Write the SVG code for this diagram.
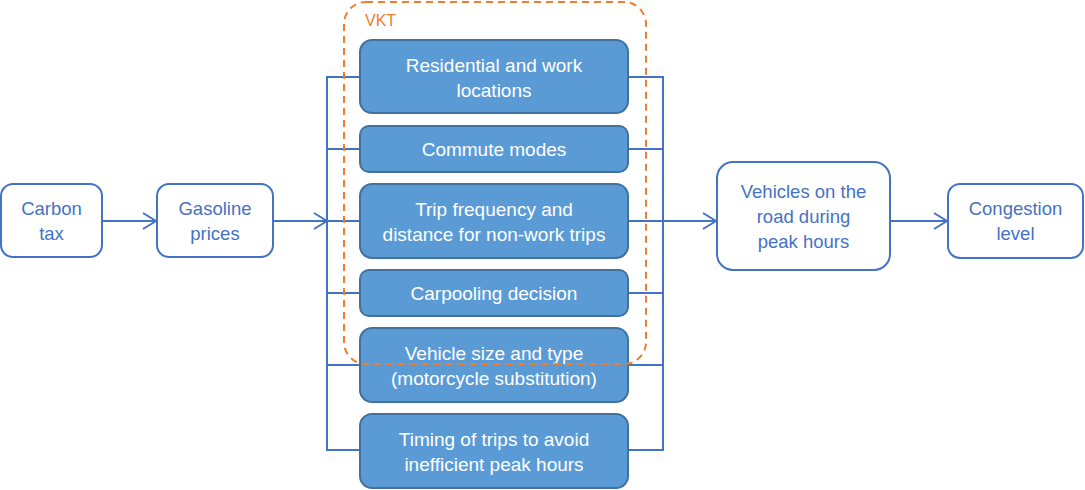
<svg xmlns="http://www.w3.org/2000/svg" width="1085" height="490" viewBox="0 0 1085 490">
<defs>
<marker id="arr" markerWidth="16" markerHeight="18" refX="14" refY="9" orient="auto" markerUnits="userSpaceOnUse">
<path d="M1,1 L14,9 L1,17" fill="none" stroke="#4472C4" stroke-width="2"/>
</marker>
<style>
.wb{fill:#fff;stroke:#4472C4;stroke-width:2}
.bb{fill:#5B9BD5;stroke:#41719C;stroke-width:2}
.wt{font-family:"Liberation Sans",Arial,sans-serif;font-size:18.5px;fill:#4472C4;text-anchor:middle}
.bt{font-family:"Liberation Sans",Arial,sans-serif;font-size:19px;fill:#fff;text-anchor:middle}
.cn{fill:none;stroke:#4472C4;stroke-width:2}
</style>
</defs>
<g id="connectors">
<path class="cn" d="M102,221 H156" marker-end="url(#arr)"/>
<path class="cn" d="M273,221 H327" marker-end="url(#arr)"/>
<path class="cn" d="M360,77 H327 V450 H360 M327,149 H360 M327,221 H360 M327,293 H360 M327,365 H360"/>
<path class="cn" d="M628,77 H663 V450 H628 M628,149 H663 M628,221 H663 M628,293 H663 M628,365 H663"/>
<path class="cn" d="M663,221 H716" marker-end="url(#arr)"/>
<path class="cn" d="M890,221 H947" marker-end="url(#arr)"/>
</g>
<g id="carbon-tax">
<rect class="wb" x="1" y="184" width="101" height="73" rx="12"/>
<text class="wt" x="51.5" y="215">Carbon</text>
<text class="wt" x="51.5" y="240">tax</text>
</g>
<g id="gasoline-prices">
<rect class="wb" x="157" y="184" width="116" height="73" rx="12"/>
<text class="wt" x="215" y="215">Gasoline</text>
<text class="wt" x="215" y="240">prices</text>
</g>
<g id="residential">
<rect class="bb" x="360" y="40" width="268" height="73" rx="12"/>
<text class="bt" x="494" y="72">Residential and work</text>
<text class="bt" x="494" y="97">locations</text>
</g>
<g id="commute">
<rect class="bb" x="360" y="126" width="268" height="46" rx="9"/>
<text class="bt" x="494" y="156">Commute modes</text>
</g>
<g id="trip-frequency">
<rect class="bb" x="360" y="184" width="268" height="74" rx="12"/>
<text class="bt" x="494" y="216">Trip frequency and</text>
<text class="bt" x="494" y="241">distance for non-work trips</text>
</g>
<g id="carpooling">
<rect class="bb" x="360" y="270" width="268" height="46" rx="9"/>
<text class="bt" x="494" y="300">Carpooling decision</text>
</g>
<g id="vehicle-size">
<rect class="bb" x="360" y="328" width="268" height="74" rx="12"/>
<text class="bt" x="494" y="360">Vehicle size and type</text>
<text class="bt" x="494" y="385">(motorcycle substitution)</text>
</g>
<g id="timing">
<rect class="bb" x="360" y="414" width="268" height="74" rx="12"/>
<text class="bt" x="494" y="446">Timing of trips to avoid</text>
<text class="bt" x="494" y="471">inefficient peak hours</text>
</g>
<g id="vkt">
<rect x="344" y="2" width="302" height="362" rx="22" fill="none" stroke="#ED7D31" stroke-width="2" stroke-dasharray="7,5"/>
<text x="365" y="26" font-family="Liberation Sans,Arial,sans-serif" font-size="16" fill="#ED7D31">VKT</text>
</g>
<g id="vehicles-peak">
<rect class="wb" x="717" y="162" width="173" height="108" rx="16"/>
<text class="wt" x="803.5" y="198">Vehicles on the</text>
<text class="wt" x="803.5" y="223">road during</text>
<text class="wt" x="803.5" y="248">peak hours</text>
</g>
<g id="congestion">
<rect class="wb" x="948" y="184" width="135" height="74" rx="12"/>
<text class="wt" x="1015.5" y="215">Congestion</text>
<text class="wt" x="1015.5" y="240">level</text>
</g>
</svg>
